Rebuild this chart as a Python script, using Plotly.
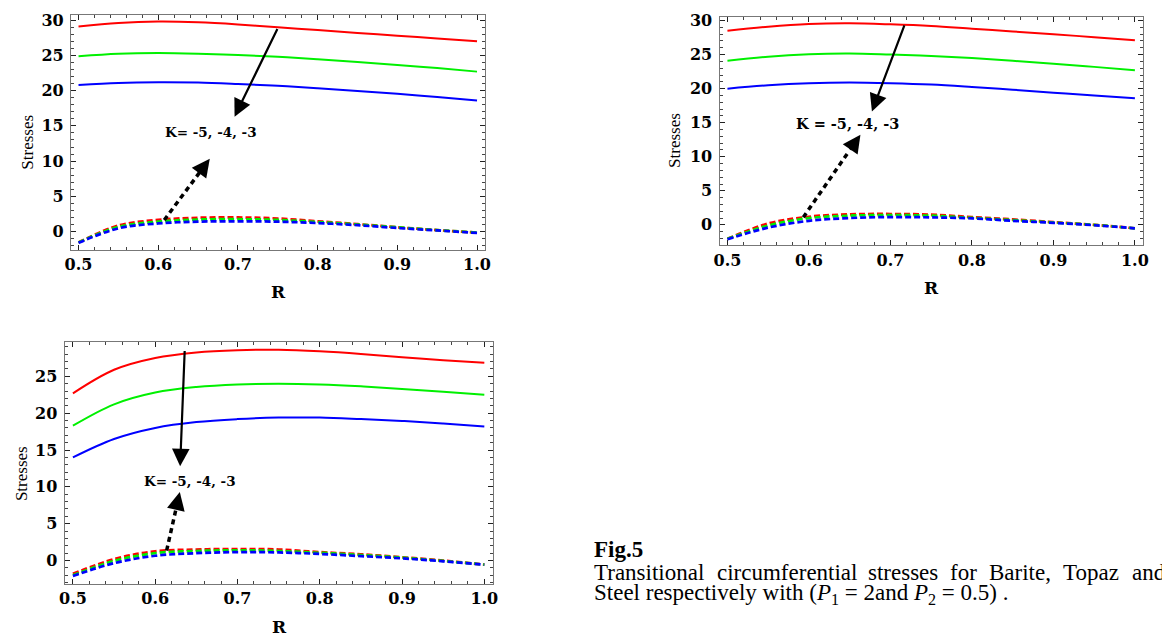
import plotly.graph_objects as go

W, H = 1162, 634

# ---------------- data ----------------
R = [0.5, 0.55, 0.6, 0.65, 0.7, 0.75, 0.8, 0.85, 0.9, 0.95, 1.0]

# Panel 1 (Barite)
p1_red = [29.1, 29.6, 29.8, 29.7, 29.4, 29.0, 28.6, 28.2, 27.8, 27.4, 27.0]
p1_green = [24.9, 25.25, 25.35, 25.25, 25.05, 24.8, 24.45, 24.05, 23.65, 23.2, 22.7]
p1_blue = [20.8, 21.1, 21.2, 21.15, 20.95, 20.7, 20.35, 19.95, 19.55, 19.1, 18.6]
p1_red_d = [-1.55, 0.85, 1.65, 1.95, 2.0, 1.85, 1.45, 1.05, 0.6, 0.2, -0.15]
p1_green_d = [-1.55, 0.65, 1.4, 1.7, 1.75, 1.65, 1.35, 1.0, 0.6, 0.2, -0.15]
p1_blue_d = [-1.6, 0.45, 1.15, 1.4, 1.45, 1.4, 1.2, 0.9, 0.5, 0.15, -0.2]

# Panel 2 (Topaz)
p2_red = [28.5, 29.1, 29.5, 29.6, 29.45, 29.2, 28.8, 28.4, 28.0, 27.55, 27.1]
p2_green = [24.1, 24.7, 25.05, 25.15, 25.0, 24.8, 24.5, 24.1, 23.65, 23.2, 22.7]
p2_blue = [20.0, 20.5, 20.8, 20.9, 20.8, 20.6, 20.25, 19.85, 19.4, 19.0, 18.6]
p2_red_d = [-2.05, 0.2, 1.2, 1.55, 1.6, 1.5, 1.15, 0.8, 0.4, 0.0, -0.5]
p2_green_d = [-2.05, -0.1, 1.0, 1.35, 1.45, 1.35, 1.05, 0.7, 0.35, 0.0, -0.5]
p2_blue_d = [-2.1, -0.4, 0.6, 1.0, 1.15, 1.1, 0.95, 0.6, 0.3, -0.05, -0.5]

# Panel 3 (Steel)
p3_red = [22.7, 25.9, 27.5, 28.25, 28.55, 28.6, 28.4, 28.05, 27.6, 27.2, 26.85]
p3_green = [18.3, 21.2, 22.8, 23.55, 23.9, 24.0, 23.9, 23.65, 23.3, 22.9, 22.5]
p3_blue = [14.0, 16.5, 18.0, 18.8, 19.2, 19.4, 19.4, 19.2, 18.95, 18.6, 18.2]
p3_red_d = [-1.8, 0.2, 1.25, 1.5, 1.57, 1.5, 1.15, 0.85, 0.45, 0.0, -0.55]
p3_green_d = [-2.0, -0.05, 1.0, 1.3, 1.4, 1.3, 1.05, 0.75, 0.4, -0.05, -0.55]
p3_blue_d = [-2.1, -0.35, 0.65, 1.0, 1.15, 1.1, 0.9, 0.6, 0.3, -0.1, -0.55]

x_ticks = [0.5, 0.6, 0.7, 0.8, 0.9, 1.0]
y_ticks_top = [0, 5, 10, 15, 20, 25, 30]
y_ticks_bottom = [0, 5, 10, 15, 20, 25]

k_label_1 = "K= -5, -4, -3"
k_label_2 = "K = -5, -4, -3"
k_label_3 = "K= -5, -4, -3"

# ---------------- layout helpers ----------------
def px_x(p):
    return p / W

def px_y(p):
    return 1 - p / H

# pixel boxes of each frame: (left, top, right, bottom)
boxes = {
    1: (65.7, 10.0, 484.0, 247.0),
    2: (721.0, 11.7, 1149.0, 242.3),
    3: (59.3, 340.0, 492.3, 583.3),
}
x_ranges = {1: [0.4906, 1.0100], 2: [0.4903, 1.0101], 3: [0.4900, 1.0108]}
y_ranges = {1: [-2.63, 30.75], 2: [-3.01, 30.58], 3: [-3.14, 29.62]}

RED, GREEN, BLUE = "#ff0000", "#00f000", "#0000ff"

fig = go.Figure()

panels = {
    1: (p1_red, p1_green, p1_blue, p1_red_d, p1_green_d, p1_blue_d),
    2: (p2_red, p2_green, p2_blue, p2_red_d, p2_green_d, p2_blue_d),
    3: (p3_red, p3_green, p3_blue, p3_red_d, p3_green_d, p3_blue_d),
}

for i, (r, g, b, rd, gd, bd) in panels.items():
    xa = "x" if i == 1 else f"x{i}"
    ya = "y" if i == 1 else f"y{i}"
    for ys, col in ((rd, RED), (gd, GREEN), (bd, BLUE)):
        fig.add_trace(go.Scatter(x=R, y=ys, mode="lines", xaxis=xa, yaxis=ya,
                                 line=dict(color=col, width=2.7, dash="6px,3px", shape="spline"),
                                 showlegend=False, hoverinfo="skip"))
    for ys, col in ((r, RED), (g, GREEN), (b, BLUE)):
        fig.add_trace(go.Scatter(x=R, y=ys, mode="lines", xaxis=xa, yaxis=ya,
                                 line=dict(color=col, width=2, shape="spline"),
                                 showlegend=False, hoverinfo="skip"))

tick_font = dict(family="DejaVu Serif", size=16, color="black", weight="bold")
layout = dict(
    width=W, height=H,
    margin=dict(l=0, r=0, t=0, b=0),
    paper_bgcolor="white", plot_bgcolor="white",
    showlegend=False,
)

for i in (1, 2, 3):
    l, t, rgt, btm = boxes[i]
    xkey = "xaxis" if i == 1 else f"xaxis{i}"
    ykey = "yaxis" if i == 1 else f"yaxis{i}"
    xa = "x" if i == 1 else f"x{i}"
    ya = "y" if i == 1 else f"y{i}"
    common = dict(showgrid=False, zeroline=False, showline=True, linecolor="#777777",
                  linewidth=1.3, mirror="ticks", ticks="inside", ticklen=5, tickwidth=1.2,
                  tickcolor="#222222", tickfont=tick_font)
    layout[xkey] = dict(common, domain=[px_x(l), px_x(rgt)], range=x_ranges[i],
                        anchor=ya, tickvals=x_ticks, tickformat=".1f",
                        ticklabelstandoff=0,
                        minor=dict(ticks="inside", ticklen=3, dtick=0.02, tick0=0.5,
                                   tickcolor="#444444", tickwidth=1))
    layout[ykey] = dict(common, domain=[px_y(btm), px_y(t)], range=y_ranges[i],
                        anchor=xa, tickvals=(y_ticks_top if i < 3 else y_ticks_bottom),
                        ticklabelstandoff=3,
                        minor=dict(ticks="inside", ticklen=3, dtick=1, tick0=0,
                                   tickcolor="#444444", tickwidth=1))

fig.update_layout(**layout)

annotations = []
shapes = []

# axis titles (pixel positions)
titles = {
    1: dict(stress=(22, 138), r=(275, 289)),
    2: dict(stress=(676, 137), r=(935, 285)),
    3: dict(stress=(15, 472), r=(276, 627)),
}
for i, tp in titles.items():
    sx, sy = tp["stress"]
    annotations.append(dict(x=px_x(sx), y=px_y(sy), xref="paper", yref="paper",
                            text="Stresses", showarrow=False, textangle=-90,
                            xanchor="center", yanchor="middle",
                            font=dict(family="Liberation Serif", size=17, color="black")))
    rx, ry = tp["r"]
    annotations.append(dict(x=px_x(rx), y=px_y(ry), xref="paper", yref="paper",
                            text="<b>R</b>", showarrow=False,
                            xanchor="center", yanchor="middle",
                            font=dict(family="DejaVu Serif", size=17, color="black")))

# K labels and arrows (data coordinates of each panel)
arrow_specs = {
    1: dict(label=k_label_1, lab=(0.6656, 14.2), size=13.5,
            solid=((0.7504, 28.97), (0.6958, 16.3)),
            dashed=((0.6076, 1.64), (0.6647, 10.33))),
    2: dict(label=k_label_2, lab=(0.6478, 14.9), size=14.5,
            solid=((0.7178, 29.5), (0.6773, 16.65)),
            dashed=((0.5931, 1.12), (0.6632, 13.25))),
    3: dict(label=k_label_3, lab=(0.6419, 10.86), size=13.5,
            solid=((0.6359, 28.64), (0.6303, 12.79)),
            dashed=((0.6139, 1.35), (0.6299, 9.29))),
}
for i, sp in arrow_specs.items():
    xa = "x" if i == 1 else f"x{i}"
    ya = "y" if i == 1 else f"y{i}"
    annotations.append(dict(x=sp["lab"][0], y=sp["lab"][1], xref=xa, yref=ya,
                            text=f"<b>{sp['label']}</b>", showarrow=False,
                            xanchor="center", yanchor="middle",
                            font=dict(family="DejaVu Serif", size=sp["size"], color="black")))
    (tx, ty), (hx, hy) = sp["solid"]
    annotations.append(dict(x=hx, y=hy, ax=tx, ay=ty, xref=xa, yref=ya, axref=xa, ayref=ya,
                            text="", showarrow=True, arrowhead=2, arrowsize=1.6,
                            arrowwidth=2.2, arrowcolor="black", standoff=0))
    (tx, ty), (hx, hy) = sp["dashed"]
    fx = tx + 0.8 * (hx - tx)
    fy = ty + 0.8 * (hy - ty)
    shapes.append(dict(type="line", xref=xa, yref=ya, x0=tx, y0=ty, x1=fx, y1=fy,
                       line=dict(color="black", width=3.5, dash="5px,4px")))
    annotations.append(dict(x=hx, y=hy, ax=fx, ay=fy, xref=xa, yref=ya, axref=xa, ayref=ya,
                            text="", showarrow=True, arrowhead=2, arrowsize=1.2,
                            arrowwidth=3, arrowcolor="black", standoff=0))

# caption
cap_font = dict(family="Liberation Serif", size=23, color="black")
annotations.append(dict(x=px_x(592), y=px_y(549), xref="paper", yref="paper",
                        text="<b>Fig.5</b>", showarrow=False, xanchor="left", yanchor="middle",
                        font=cap_font))
line1_words = ["Transitional", "circumferential", "stresses", "for", "Barite,", "Topaz", "and"]
line1_x = [592, 716, 869, 952, 991, 1066, 1136]
for wd, wx in zip(line1_words, line1_x):
    annotations.append(dict(x=px_x(wx), y=px_y(572), xref="paper", yref="paper",
                            text=wd, showarrow=False, xanchor="left", yanchor="middle",
                            font=cap_font))
annotations.append(dict(x=px_x(592), y=px_y(594), xref="paper", yref="paper",
                        text="Steel respectively with (<i>P</i><sub>1</sub> = 2and <i>P</i><sub>2</sub> = 0.5) .",
                        showarrow=False, xanchor="left", yanchor="middle", font=cap_font))

fig.update_layout(annotations=annotations, shapes=shapes)
fig.write_html("out.html", config={"displayModeBar": False},
               post_script="document.body.style.margin='0px';document.body.style.overflow='hidden';")
